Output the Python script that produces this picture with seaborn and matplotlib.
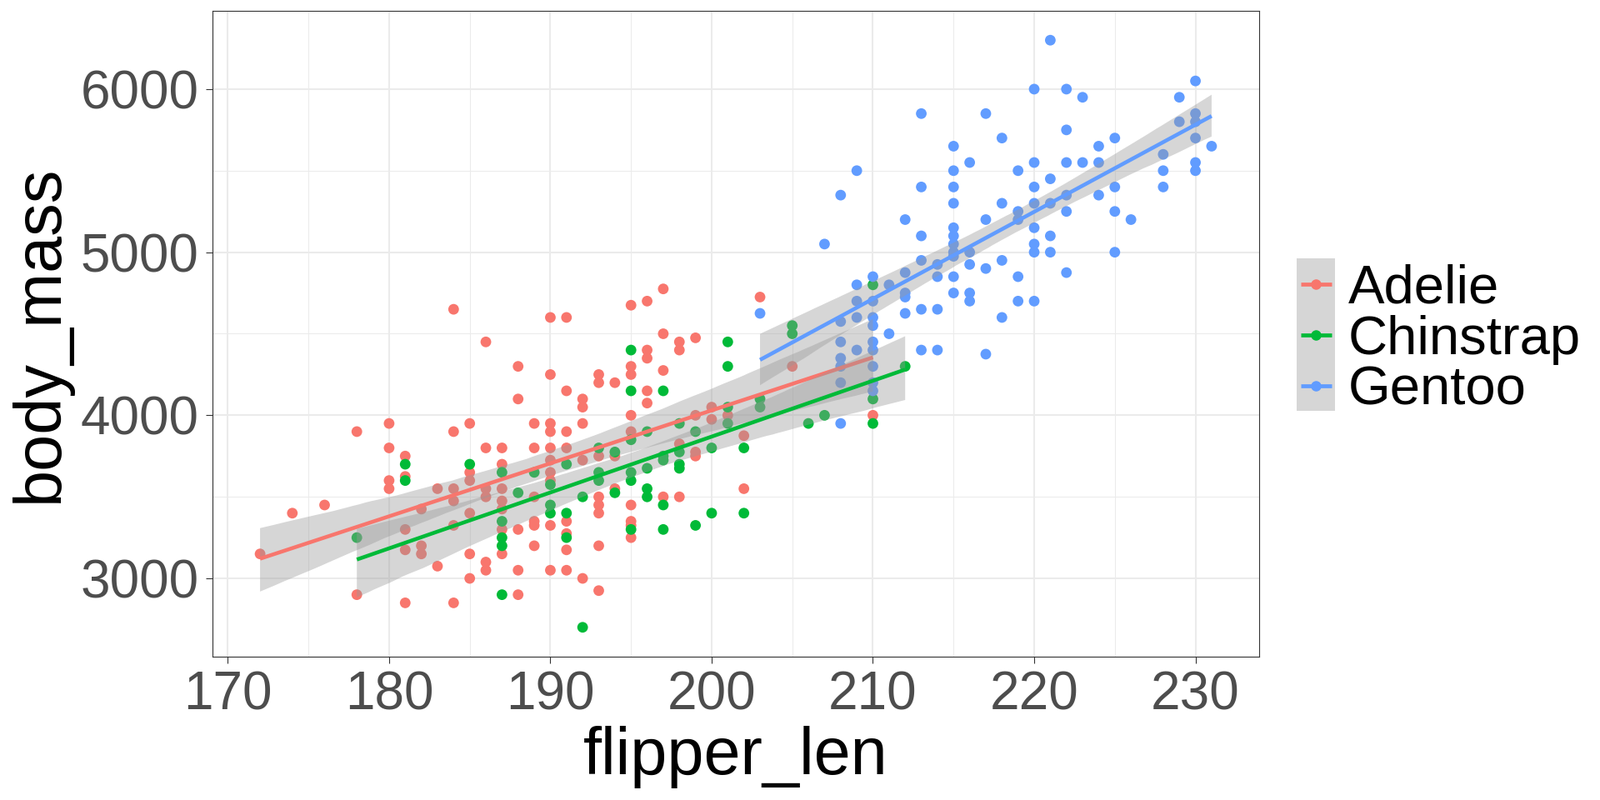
import numpy as np
import pandas as pd
import matplotlib
matplotlib.use("Agg")
import matplotlib.pyplot as plt
from matplotlib.patches import Rectangle
from matplotlib.ticker import MultipleLocator
import seaborn as sns

# ---------------- data ----------------
species_names = ["Adelie", "Chinstrap", "Gentoo"]
species_colors = ["#F8766D", "#00BA38", "#619CFF"]

adelie_pts = [
    (172, 3150), (174, 3400), (176, 3450), (178, 3900), (178, 2900), (180, 3950),
    (180, 3800), (180, 3600), (180, 3550),
    (184, 4650), (186, 4450), (188, 4300), (188, 4100), (184, 3900), (185, 3950),
    (186, 3800), (187, 3800),
    (181, 3750), (181, 3625), (185, 3650), (185, 3600), (183, 3550), (184, 3550),
    (184, 3475), (182, 3425), (181, 3300), (181, 3175), (182, 3200), (182, 3150),
    (183, 3075), (184, 3325), (185, 3400), (185, 3150), (185, 3000), (186, 3550),
    (186, 3500), (186, 3100), (186, 3050), (187, 3700), (187, 3550), (187, 3475),
    (187, 3425), (187, 3300), (187, 3150), (188, 3300), (188, 3050), (188, 2900),
    (181, 2850), (184, 2850),
    (190, 4600), (191, 4600), (195, 4675), (196, 4700), (197, 4775), (197, 4500),
    (196, 4400), (196, 4350), (195, 4300), (195, 4250), (193, 4250), (193, 4200),
    (194, 4200), (190, 4250), (191, 4150), (192, 4100), (192, 4050), (192, 3950),
    (196, 4150), (196, 4075), (197, 4275), (195, 4000), (189, 3950), (190, 3950),
    (190, 3900), (191, 3900), (195, 3900), (189, 3800), (190, 3800), (191, 3800),
    (193, 3750), (194, 3750), (190, 3725), (190, 3650), (190, 3600), (192, 3725),
    (189, 3500), (193, 3500), (193, 3450), (193, 3400), (194, 3550), (197, 3500),
    (195, 3450), (195, 3350), (195, 3325), (195, 3250), (189, 3350), (189, 3325),
    (190, 3325), (191, 3350), (191, 3275), (191, 3175), (189, 3200), (193, 3200),
    (190, 3050), (191, 3050), (192, 3000), (193, 2925),
    (198, 4450), (198, 4400), (199, 4475), (203, 4725), (205, 4300), (200, 4050),
    (201, 4000), (199, 4000), (200, 3975), (198, 3825), (199, 3775), (199, 3750),
    (202, 3875), (198, 3500), (202, 3550), (210, 4000),
]

chinstrap_pts = [
    (178, 3250), (181, 3700), (181, 3600), (185, 3700), (187, 3650), (187, 3350),
    (187, 3250), (187, 3200), (187, 2900), (188, 3525),
    (195, 4400), (195, 4150), (197, 4150), (195, 3850), (196, 3900), (193, 3800),
    (193, 3650), (193, 3600), (194, 3775), (190, 3575), (191, 3700), (189, 3650),
    (190, 3450), (190, 3400), (191, 3400), (192, 3500), (194, 3525), (195, 3650),
    (195, 3600), (196, 3675), (196, 3550), (196, 3500), (197, 3725), (197, 3450),
    (197, 3300), (195, 3300), (191, 3250), (192, 2700),
    (201, 4450), (201, 4300), (205, 4550), (205, 4500), (203, 4100), (203, 4050),
    (201, 4050), (201, 3950), (198, 3950), (199, 3900), (198, 3775), (200, 3800),
    (202, 3800), (197, 3750), (198, 3700), (198, 3675), (200, 3400), (199, 3325),
    (202, 3400),
    (206, 3950), (207, 4000), (210, 4800), (210, 4100), (210, 3950), (212, 4300),
]

gentoo_pts = [
    (203, 4625), (207, 5050), (208, 5350), (209, 5500), (212, 5200), (212, 4875),
    (209, 4800), (210, 4850), (211, 4800), (209, 4700), (210, 4700), (212, 4750),
    (212, 4725), (208, 4575), (209, 4600), (210, 4600), (210, 4550), (211, 4500),
    (212, 4625), (208, 4450), (209, 4400), (210, 4450), (210, 4400), (208, 4350),
    (208, 4300), (210, 4300), (208, 4200), (210, 4200), (210, 4150), (208, 3950),
    (213, 4950), (213, 4650), (213, 4400),
    (213, 5850), (217, 5850), (221, 6300), (220, 6000), (222, 6000), (222, 5750),
    (218, 5700), (215, 5650), (216, 5550), (215, 5500), (219, 5500), (220, 5550),
    (222, 5550), (221, 5450), (213, 5400), (215, 5400), (220, 5400), (215, 5300),
    (218, 5300), (220, 5300), (221, 5300), (222, 5350), (222, 5250), (217, 5200),
    (219, 5250), (219, 5200), (213, 5100), (215, 5150), (215, 5100), (215, 5050),
    (215, 5000), (215, 4975), (216, 5000), (220, 5150), (220, 5050), (220, 5000),
    (221, 5100), (221, 5000), (214, 4925), (214, 4850), (216, 4925), (217, 4900),
    (218, 4950), (215, 4850), (219, 4850), (222, 4875), (215, 4750), (216, 4750),
    (216, 4700), (219, 4700), (220, 4700), (218, 4600), (214, 4650), (214, 4400),
    (217, 4375),
    (223, 5950), (225, 5700), (224, 5650), (223, 5550), (224, 5550), (225, 5400),
    (224, 5350), (225, 5250), (226, 5200), (225, 5000), (230, 6050), (229, 5950),
    (230, 5850), (230, 5800), (229, 5800), (230, 5700), (231, 5650), (228, 5600),
    (228, 5500), (228, 5400), (230, 5550), (230, 5500),
]

x_major_ticks = [170, 180, 190, 200, 210, 220, 230]
y_major_ticks = [3000, 4000, 5000, 6000]

# ---------------- build frame ----------------
frames = []
for name, pts in zip(species_names, [adelie_pts, chinstrap_pts, gentoo_pts]):
    arr = np.array(pts, dtype=float)
    frames.append(pd.DataFrame({"flipper_len": arr[:, 0], "body_mass": arr[:, 1], "species": name}))
df = pd.concat(frames, ignore_index=True)
palette = dict(zip(species_names, species_colors))

# ---------------- style ----------------
sns.set_theme(style="white")
plt.rcParams["font.family"] = ["Liberation Sans", "DejaVu Sans"]

W, H = 1920, 960
fig = plt.figure(figsize=(19.2, 9.6), dpi=100)
fig.patch.set_facecolor("white")
pl, pr, pt, pb = 255, 1511, 13, 788
ax = fig.add_axes([pl / W, 1 - pb / H, (pr - pl) / W, (pb - pt) / H])
ax.set_facecolor("white")

sns.scatterplot(data=df, x="flipper_len", y="body_mass", hue="species",
                palette=palette, s=85, linewidth=0, alpha=1.0,
                ax=ax, legend=False, zorder=2)

for i, sp in enumerate(species_names):
    sub = df[df["species"] == sp]
    nc, nl = len(ax.collections), len(ax.lines)
    sns.regplot(data=sub, x="flipper_len", y="body_mass", scatter=False,
                ci=95, n_boot=2000, seed=3, color=palette[sp],
                line_kws=dict(lw=3.3, solid_capstyle="butt"), ax=ax)
    for c in ax.collections[nc:]:
        c.set_alpha(0.4)
        c.set_facecolor((0.6, 0.6, 0.6))
        c.set_edgecolor("none")
        c.set_linewidth(0)
        c.set_zorder(3 + 2 * i)
    for ln in ax.lines[nl:]:
        ln.set_zorder(4 + 2 * i)

# limits with ggplot-like 5% expansion
xmin, xmax = df["flipper_len"].min(), df["flipper_len"].max()
ymin, ymax = df["body_mass"].min(), df["body_mass"].max()
xr, yr = xmax - xmin, ymax - ymin
ax.set_xlim(xmin - 0.05 * xr, xmax + 0.05 * xr)
ax.set_ylim(ymin - 0.05 * yr, ymax + 0.05 * yr)

ax.set_xticks(x_major_ticks)
ax.set_yticks(y_major_ticks)
ax.xaxis.set_minor_locator(MultipleLocator(5))
ax.yaxis.set_minor_locator(MultipleLocator(500))
ax.grid(which="major", color="#EBEBEB", lw=1.5)
ax.grid(which="minor", color="#EBEBEB", lw=0.75)
ax.set_axisbelow(True)

for s in ax.spines.values():
    s.set_visible(True)
    s.set_color("#333333")
    s.set_linewidth(0.8)
    s.set_zorder(20)

ax.tick_params(which="major", length=5.8, width=0.8, color="#333333",
               labelsize=46, labelcolor="#4D4D4D", pad=6, bottom=True, left=True)
ax.tick_params(which="minor", length=0)

ax.set_xlabel("flipper_len", fontsize=57, color="black", labelpad=5)
ax.set_ylabel("body_mass", fontsize=57, color="black", labelpad=8)

# ---------------- legend (ggplot-like keys) ----------------
lax = fig.add_axes([0, 0, 1, 1])
lax.set_xlim(0, W)
lax.set_ylim(H, 0)
lax.axis("off")
kx0, kx1, ky0, kh = 1556, 1602, 310, 61
rows = [ky0 + kh * (k + 0.5) for k in range(3)]
lax.add_patch(Rectangle((kx0, ky0), kx1 - kx0, 3 * kh, facecolor="white", edgecolor="none"))
for sp, yc in zip(species_names, rows):
    lax.plot([(kx0 + kx1) / 2], [yc], "o", ms=9, color=palette[sp], mec="none")
lax.add_patch(Rectangle((kx0, ky0), kx1 - kx0, 3 * kh,
                        facecolor=(0.6, 0.6, 0.6), alpha=0.4, edgecolor="none"))
for sp, yc in zip(species_names, rows):
    lax.plot([kx0 + 4.5, kx1 - 4.5], [yc, yc], color=palette[sp], lw=3.4,
             solid_capstyle="butt")
    lax.text(1618, yc + 23.5, sp, fontsize=47, color="black", ha="left", va="baseline")

fig.savefig("out.png", dpi=100, facecolor="white")
